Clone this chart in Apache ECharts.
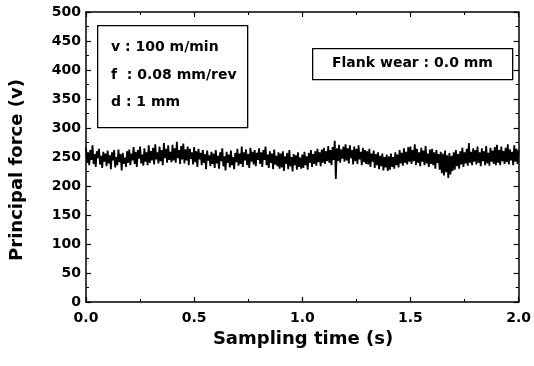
<!DOCTYPE html>
<html>
<head>
<meta charset="utf-8">
<script src="https://cdn.jsdelivr.net/npm/echarts@6/dist/echarts.min.js"></script>
<style>
html,body{margin:0;padding:0;background:#fff;}
#chart{width:534px;height:366px;}
</style>
</head>
<body>
<div id="chart"></div>
<script>
// Sampling step (s) and principal force readings (v)
const sampleStep = 0.005;
const force = [
  266, 240, 258, 236, 262, 245, 270, 238, 255, 233, 260, 248, 264, 237, 252, 231, 259, 242, 256, 234,
  261, 239, 253, 229, 258, 244, 262, 232, 250, 236, 263, 241, 255, 227, 257, 238, 249, 233, 260, 240,
  263, 236, 256, 244, 267, 238, 259, 233, 262, 247, 268, 239, 254, 235, 265, 242, 258, 236, 270, 240,
  260, 244, 266, 237, 272, 246, 258, 239, 268, 243, 262, 236, 274, 248, 264, 240, 270, 245, 259, 241,
  271, 244, 265, 240, 276, 248, 262, 238, 269, 246, 273, 239, 263, 244, 268, 236, 264, 247, 258, 237,
  267, 241, 260, 233, 264, 246, 257, 236, 262, 240, 255, 229, 261, 244, 253, 234, 259, 238, 256, 231,
  262, 239, 252, 230, 258, 243, 265, 234, 251, 227, 259, 240, 254, 232, 261, 236, 250, 229, 257, 241,
  264, 235, 256, 238, 268, 233, 258, 244, 263, 236, 255, 231, 266, 242, 259, 237, 262, 234, 257, 245,
  265, 238, 258, 233, 262, 245, 268, 236, 254, 231, 260, 240, 256, 229, 263, 237, 252, 234, 258, 230,
  256, 232, 260, 226, 251, 238, 257, 229, 262, 234, 250, 225, 255, 236, 253, 228, 258, 233, 249, 230,
  254, 231, 259, 236, 251, 228, 257, 240, 262, 233, 255, 238, 260, 235, 264, 241, 258, 234, 263, 240,
  266, 238, 260, 243, 269, 240, 262, 236, 267, 245, 278, 212, 265, 243, 271, 240, 263, 247, 268, 242,
  272, 244, 265, 239, 270, 248, 262, 237, 268, 243, 264, 238, 270, 246, 259, 236, 266, 241, 262, 238,
  260, 237, 264, 233, 256, 242, 261, 231, 255, 236, 258, 229, 252, 234, 256, 227, 250, 232, 254, 226,
  251, 228, 256, 233, 250, 230, 258, 236, 254, 232, 262, 239, 257, 235, 265, 240, 259, 237, 267, 242,
  268, 238, 262, 243, 272, 236, 264, 240, 258, 234, 266, 242, 261, 236, 269, 239, 256, 233, 263, 238,
  264, 236, 258, 230, 262, 240, 255, 228, 259, 222, 256, 218, 261, 224, 253, 214, 257, 220, 252, 226,
  258, 228, 262, 234, 255, 230, 260, 237, 266, 233, 258, 239, 264, 235, 274, 240, 259, 236, 265, 242,
  262, 237, 268, 240, 258, 234, 265, 243, 260, 236, 269, 239, 257, 235, 266, 242, 261, 238, 267, 236,
  271, 240, 262, 236, 268, 243, 260, 238, 266, 241, 272, 237, 263, 244, 259, 236, 270, 242, 264, 238,
  262
];
const conditionLines = ['v : 100 m/min', 'f  : 0.08 mm/rev', 'd : 1 mm'];
const wearLabel = 'Flank wear : 0.0 mm';
const xTitle = 'Sampling time (s)';
const yTitle = 'Principal force (v)';

const seriesData = force.map((v, i) => [+(i * sampleStep).toFixed(3), v]);

const chart = echarts.init(document.getElementById('chart'), null, {renderer: 'canvas'});
const FONT = '"DejaVu Sans", sans-serif';
const axisCommon = {
  min: 0,
  axisLine: {show: true, onZero: false, lineStyle: {color: '#000', width: 1.5}},
  axisTick: {show: true, inside: true, length: 5, lineStyle: {color: '#000', width: 1.2}},
  minorTick: {show: true, splitNumber: 2, length: 3, lineStyle: {color: '#000', width: 1}},
  splitLine: {show: false}
};
chart.setOption({
  animation: false,
  grid: {left: 86, right: 13, top: 12, bottom: 64, containLabel: false},
  xAxis: [
    Object.assign({}, axisCommon, {
      type: 'value', max: 2.0, interval: 0.5, position: 'bottom',
      axisLabel: {margin: 9, fontFamily: FONT, fontSize: 14, fontWeight: 'bold', color: '#000',
        formatter: v => v.toFixed(1)}
    }),
    Object.assign({}, axisCommon, {
      type: 'value', max: 2.0, interval: 0.5, position: 'top',
      axisLabel: {show: false}
    })
  ],
  yAxis: [
    Object.assign({}, axisCommon, {
      type: 'value', max: 500, interval: 50, position: 'left',
      axisLabel: {margin: 5, fontFamily: FONT, fontSize: 14, fontWeight: 'bold', color: '#000'}
    }),
    Object.assign({}, axisCommon, {
      type: 'value', max: 500, interval: 50, position: 'right',
      axisLabel: {show: false}
    })
  ],
  series: [{
    type: 'line',
    data: seriesData,
    showSymbol: false,
    symbol: 'none',
    lineStyle: {color: '#000', width: 1.8},
    z: 3
  }],
  graphic: [
    {type: 'text', x: 303, y: 339, style: {text: xTitle, font: 'bold 18px ' + FONT, fill: '#000', align: 'center', verticalAlign: 'middle'}},
    {type: 'text', x: 17, y: 170, rotation: Math.PI / 2, style: {text: yTitle, font: 'bold 18px ' + FONT, fill: '#000', align: 'center', verticalAlign: 'middle'}},
    {type: 'rect', left: 97, top: 25, shape: {width: 150, height: 102},
      style: {fill: '#fff', stroke: '#000', lineWidth: 1.3}, z: 10},
    {type: 'text', x: 111, y: 47, style: {text: conditionLines[0], font: 'bold 14px ' + FONT, fill: '#000', verticalAlign: 'middle'}, z: 11},
    {type: 'text', x: 111, y: 75, style: {text: conditionLines[1], font: 'bold 14px ' + FONT, fill: '#000', verticalAlign: 'middle'}, z: 11},
    {type: 'text', x: 111, y: 102, style: {text: conditionLines[2], font: 'bold 14px ' + FONT, fill: '#000', verticalAlign: 'middle'}, z: 11},
    {type: 'rect', left: 312, top: 48, shape: {width: 200, height: 31},
      style: {fill: '#fff', stroke: '#000', lineWidth: 1.3}, z: 10},
    {type: 'text', x: 332, y: 63, style: {text: wearLabel, font: 'bold 14px ' + FONT, fill: '#000', verticalAlign: 'middle'}, z: 11}
  ]
});
</script>
</body>
</html>
